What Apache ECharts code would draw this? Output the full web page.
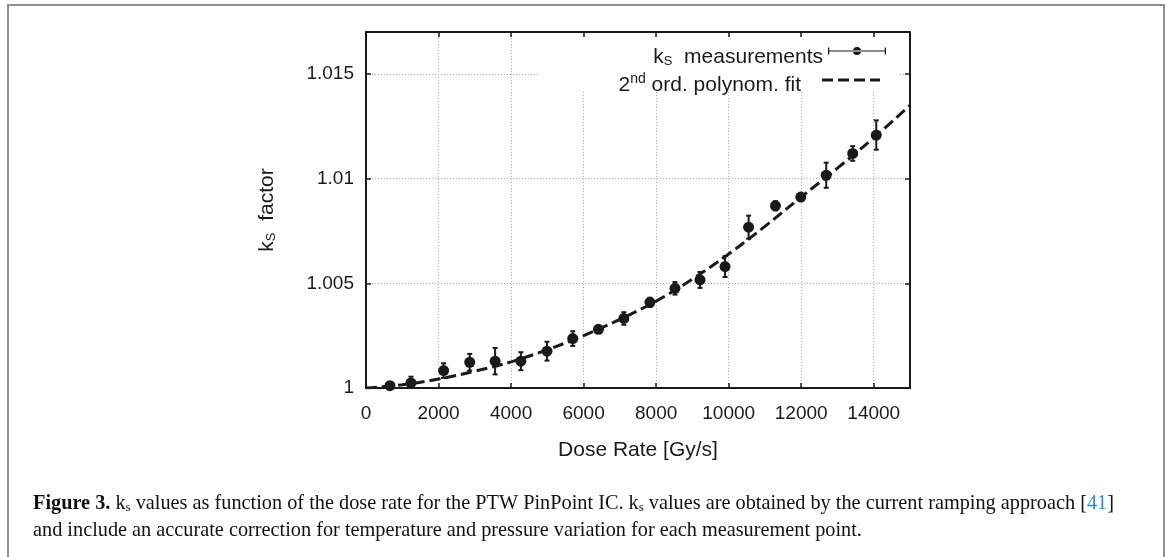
<!DOCTYPE html>
<html>
<head>
<meta charset="utf-8">
<script src="https://cdn.jsdelivr.net/npm/echarts@6/dist/echarts.min.js"></script>
<style>
  html, body { margin: 0; padding: 0; background: #fff; }
  #chart { width: 1170px; height: 557px; }
</style>
</head>
<body>
<div id="chart"></div>
<script>
var doseRate = [660, 1240, 2140, 2860, 3560, 4270, 4990, 5700, 6410, 7110, 7830, 8520, 9210, 9900, 10550, 11290, 11990, 12690, 13420, 14070];
var ksValue = [1.00011, 1.00024, 1.00083, 1.00123, 1.00128, 1.00128, 1.00176, 1.00236, 1.00280, 1.00332, 1.00409, 1.00476, 1.00516, 1.00580, 1.00768, 1.00870, 1.00912, 1.01016, 1.01120, 1.01208];
var ksError = [0.00008, 0.0003, 0.00035, 0.0004, 0.00063, 0.00043, 0.00045, 0.00035, 0.00006, 0.0003, 0.00022, 0.0003, 0.00038, 0.0005, 0.00055, 0.00022, 0.00006, 0.0006, 0.00035, 0.0007];

// 2nd order polynomial fit
var fitDose = [0, 1000, 2000, 3000, 4000, 5000, 6000, 7000, 8000, 9000, 10000, 11000, 12000, 13000, 14000, 15000];
var fitKs = [1.0, 1.00015, 1.00043, 1.0008, 1.00125, 1.00183, 1.0025, 1.00328, 1.00415, 1.0052, 1.0064, 1.00772, 1.00912, 1.0105, 1.01195, 1.0135];

var font = 'Liberation Sans, Arial, sans-serif';
var serif = 'Liberation Serif, Times New Roman, serif';
var ink = '#1a1a1a';

var points = doseRate.map(function (d, i) { return [d, ksValue[i], ksError[i]]; });
var fitLine = fitDose.map(function (d, i) { return [d, fitKs[i]]; });

// legend samples: error bar with dot, and a dashed line
var errIcon = 'path://M0,3.4H58V4.6H0Z M0,0.5H1.3V7.5H0Z M56.7,0.5H58V7.5H56.7Z M25,4A4,4 0 1,0 33,4A4,4 0 1,0 25,4Z';
var dashIcon = 'path://M0,0H11V3H0Z M16,0H27V3H16Z M32,0H43V3H32Z M48,0H58V3H48Z';

var myChart = echarts.init(document.getElementById('chart'));
myChart.setOption({
    animation: false,
    textStyle: { fontFamily: font },
    grid: { left: 366, right: 260, top: 32, bottom: 169 },
    xAxis: [
        {
            type: 'value', min: 0, max: 15000, interval: 2000,
            name: 'Dose Rate [Gy/s]', nameLocation: 'middle', nameGap: 52,
            nameTextStyle: { fontSize: 21, color: ink, fontFamily: font },
            axisLine: { onZero: false, lineStyle: { color: ink, width: 2 } },
            axisTick: { inside: true, length: 5, lineStyle: { color: ink, width: 1.5 } },
            axisLabel: { fontSize: 19, color: ink, margin: 16, showMaxLabel: false,
                formatter: function (v) { return String(v); } },
            splitLine: { show: true, lineStyle: { color: '#aaa', type: [1, 2], width: 1 } }
        },
        {
            type: 'value', position: 'top', min: 0, max: 15000, interval: 2000,
            axisLine: { onZero: false, lineStyle: { color: ink, width: 2 } },
            axisTick: { inside: true, length: 5, lineStyle: { color: ink, width: 1.5 } },
            axisLabel: { show: false },
            splitLine: { show: false }
        }
    ],
    yAxis: [
        {
            type: 'value', min: 1, max: 1.017, interval: 0.005,
            name: '{k|k}{s|S}  factor', nameLocation: 'middle', nameGap: 88,
            nameTextStyle: {
                fontSize: 21, color: ink, fontFamily: font,
                rich: {
                    k: { fontSize: 21, color: ink, fontFamily: font },
                    s: { fontSize: 13, color: ink, fontFamily: font, padding: [8, 0, 0, 0] }
                }
            },
            axisLine: { onZero: false, lineStyle: { color: ink, width: 2 } },
            axisTick: { inside: true, length: 5, lineStyle: { color: ink, width: 1.5 } },
            axisLabel: { fontSize: 19, color: ink, margin: 12, showMaxLabel: false },
            splitLine: { show: true, lineStyle: { color: '#aaa', type: [1, 2], width: 1 } }
        },
        {
            type: 'value', position: 'right', min: 1, max: 1.017, interval: 0.005,
            axisLine: { onZero: false, lineStyle: { color: ink, width: 2 } },
            axisTick: { inside: true, length: 5, lineStyle: { color: ink, width: 1.5 } },
            axisLabel: { show: false },
            splitLine: { show: false }
        }
    ],
    legend: [
        {
            data: [{ name: 'meas', icon: errIcon }],
            right: 284, top: 34, padding: 0,
            align: 'right', itemWidth: 58, itemHeight: 8,
            selectedMode: false,
            itemStyle: { color: ink, opacity: 1 },
            formatter: function () { return '{k|k}{s|S}{m|  measurements}'; },
            textStyle: {
                color: ink, fontSize: 21, fontFamily: font, lineHeight: 22, padding: [12, 0, 0, 0],
                rich: {
                    k: { fontSize: 21, color: ink, fontFamily: font },
                    s: { fontSize: 13, color: ink, fontFamily: font, padding: [8, 0, 0, 0] },
                    m: { fontSize: 21, color: ink, fontFamily: font }
                }
            }
        },
        {
            data: [{ name: 'fit', icon: dashIcon }],
            right: 290, top: 64, padding: 0,
            align: 'right', itemWidth: 58, itemHeight: 3,
            selectedMode: false,
            itemStyle: { color: ink, opacity: 1 },
            formatter: function () { return '{n|2}{sup|nd}{t| ord. polynom. fit}'; },
            textStyle: {
                color: ink, fontSize: 21, fontFamily: font, lineHeight: 22, padding: [10, 16, 0, 0],
                rich: {
                    n: { fontSize: 21, color: ink, fontFamily: font },
                    sup: { fontSize: 14, color: ink, fontFamily: font, padding: [0, 0, 12, 0] },
                    t: { fontSize: 21, color: ink, fontFamily: font }
                }
            }
        }
    ],
    graphic: [
        // white key box hiding the grid behind the legend
        { type: 'rect', z: 1, silent: true, shape: { x: 540, y: 37, width: 359, height: 53 }, style: { fill: '#fff' } },
        // figure frame
        { type: 'rect', z: 1, silent: true, shape: { x: 8, y: 5, width: 1156, height: 600 }, style: { fill: 'none', stroke: '#8f8f8f', lineWidth: 2 } },
        {
            type: 'text', z: 5, left: 33, top: 494,
            style: {
                text: '{b|Figure 3.} k{s|s} values as function of the dose rate for the PTW PinPoint IC. k{s|s} values are obtained by the current ramping approach [{l|41}]',
                font: '20.3px ' + serif, fill: '#111',
                rich: {
                    b: { fontWeight: 'bold', fontSize: 20.3, fontFamily: serif, fill: '#111' },
                    s: { fontSize: 13, fontFamily: serif, fill: '#111', padding: [8, 0, 0, 0] },
                    l: { fontSize: 20.3, fontFamily: serif, fill: '#2b8ccb' }
                }
            }
        },
        {
            type: 'text', z: 5, left: 33, top: 521,
            style: {
                text: 'and include an accurate correction for temperature and pressure variation for each measurement point.',
                font: '20.3px ' + serif, fill: '#111'
            }
        }
    ],
    series: [
        {
            name: 'fit', type: 'line', data: fitLine, smooth: 0.4,
            showSymbol: false, symbol: 'none', z: 3,
            itemStyle: { color: ink },
            lineStyle: { color: ink, width: 3, type: [11, 5] }
        },
        {
            name: 'meas', type: 'custom', data: points, clip: true, z: 4,
            encode: { x: 0, y: 1 },
            itemStyle: { color: ink },
            renderItem: function (params, api) {
                var x = api.value(0), y = api.value(1), e = api.value(2);
                var top = api.coord([x, y + e]);
                var bot = api.coord([x, y - e]);
                var w = 2.5;
                var st = { stroke: ink, lineWidth: 2 };
                return {
                    type: 'group',
                    children: [
                        { type: 'line', shape: { x1: top[0], y1: top[1], x2: bot[0], y2: bot[1] }, style: st },
                        { type: 'line', shape: { x1: top[0] - w, y1: top[1], x2: top[0] + w, y2: top[1] }, style: st },
                        { type: 'line', shape: { x1: bot[0] - w, y1: bot[1], x2: bot[0] + w, y2: bot[1] }, style: st }
                    ]
                };
            }
        },
        {
            name: 'meas', type: 'scatter', data: points, z: 5,
            symbol: 'circle', symbolSize: 11,
            itemStyle: { color: ink, opacity: 1 }
        }
    ]
});
</script>
</body>
</html>
